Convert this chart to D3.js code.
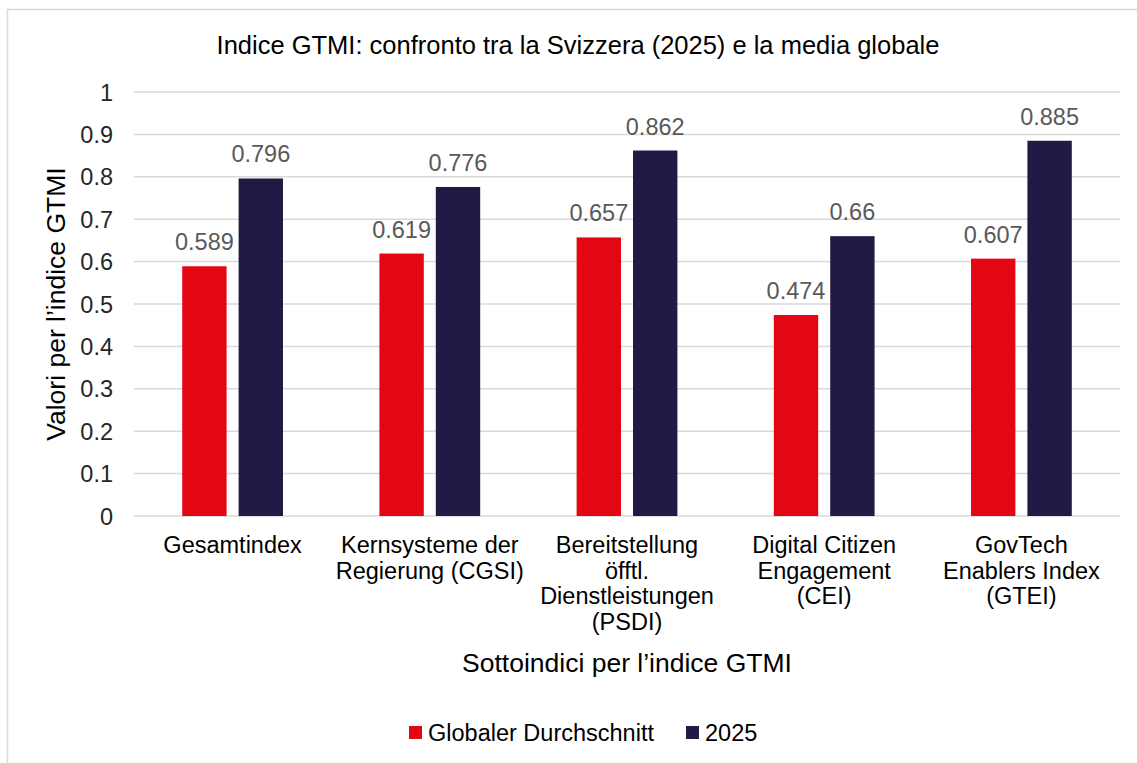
<!DOCTYPE html>
<html>
<head>
<meta charset="utf-8">
<script src="https://cdn.jsdelivr.net/npm/d3@7"></script>
<style>
  body { margin: 0; background: #fff; }
  svg text { font-family: "Liberation Sans", Arial, sans-serif; }
</style>
</head>
<body>
<div id="chart"></div>
<script>

// data
const categories = [
    ["Gesamtindex"],
    ["Kernsysteme der", "Regierung (CGSI)"],
    ["Bereitstellung", "öfftl.", "Dienstleistungen", "(PSDI)"],
    ["Digital Citizen", "Engagement", "(CEI)"],
    ["GovTech", "Enablers Index", "(GTEI)"]
];
const seriesNames = ["Globaler Durchschnitt", "2025"];
const globalAvg = [0.589, 0.619, 0.657, 0.474, 0.607];
const swiss2025 = [0.796, 0.776, 0.862, 0.66, 0.885];
const yTicks = [0, 0.1, 0.2, 0.3, 0.4, 0.5, 0.6, 0.7, 0.8, 0.9, 1];
const colors = ["#e30613", "#201a45"];

const width = 1137, height = 763;
const margin = { top: 92, right: 17, bottom: 247, left: 134 };
const innerW = width - margin.left - margin.right;
const innerH = height - margin.top - margin.bottom;

const svg = d3.select("#chart").append("svg")
    .attr("width", width)
    .attr("height", height);

// outer frame (right/bottom edges fall outside the picture)
svg.append("rect")
    .attr("x", 7.5).attr("y", 9.5)
    .attr("width", width + 20).attr("height", height + 20)
    .attr("fill", "none")
    .attr("stroke", "#d9d9d9")
    .attr("stroke-width", 1.5);

svg.append("text")
    .attr("x", 578).attr("y", 54)
    .attr("text-anchor", "middle")
    .style("font-size", "25.5px")
    .style("fill", "#000")
    .text("Indice GTMI: confronto tra la Svizzera (2025) e la media globale");

const g = svg.append("g")
    .attr("transform", "translate(" + margin.left + "," + margin.top + ")");

let y = d3.scaleLinear().domain([0, 1]).range([innerH, 0]);
let x0 = d3.scaleBand().domain(d3.range(categories.length)).range([0, innerW]);
let barW = x0.bandwidth() * 0.225;
let gap = x0.bandwidth() * 0.061;

// gridlines
g.selectAll(".grid")
    .data(yTicks)
    .enter().append("line")
    .attr("class", "grid")
    .attr("x1", 0).attr("x2", innerW)
    .attr("y1", d => y(d)).attr("y2", d => y(d))
    .style("stroke", "#d9d9d9")
    .style("stroke-width", 1.5);

// y tick labels
g.selectAll(".ytick")
    .data(yTicks)
    .enter().append("text")
    .attr("class", "ytick")
    .attr("x", -21)
    .attr("y", d => y(d) + 8.5)
    .attr("text-anchor", "end")
    .style("font-size", "23.5px")
    .style("fill", "#262626")
    .text(d => d3.format("~g")(d));

const series = [globalAvg, swiss2025];

series.forEach((vals, s) => {
    let offset = s === 0 ? -(gap / 2 + barW) : gap / 2;

    g.selectAll(".bar" + s)
        .data(vals)
        .enter().append("rect")
        .attr("x", (d, i) => x0(i) + x0.bandwidth() / 2 + offset)
        .attr("y", d => y(d))
        .attr("width", barW)
        .attr("height", d => innerH - y(d))
        .style("fill", colors[s]);

    g.selectAll(".lab" + s)
        .data(vals)
        .enter().append("text")
        .attr("x", (d, i) => x0(i) + x0.bandwidth() / 2 + offset + barW / 2)
        .attr("y", d => y(d) - 16)
        .attr("text-anchor", "middle")
        .style("font-size", "23.5px")
        .style("fill", "#595959")
        .text(d => d3.format("~g")(d));
});

// category labels
categories.forEach((lines, i) => {
    let t = g.append("text")
        .attr("text-anchor", "middle")
        .style("font-size", "23.5px")
        .style("fill", "#000");
    lines.forEach((line, k) => {
        t.append("tspan")
            .attr("x", x0(i) + x0.bandwidth() / 2)
            .attr("y", innerH + 37 + k * 25.7)
            .text(line);
    });
});

// axis titles
svg.append("text")
    .attr("x", margin.left + innerW / 2)
    .attr("y", 672)
    .attr("text-anchor", "middle")
    .style("font-size", "26.5px")
    .style("fill", "#000")
    .text("Sottoindici per l’indice GTMI");

svg.append("text")
    .attr("transform", "translate(65," + (margin.top + innerH / 2) + ") rotate(-90)")
    .attr("text-anchor", "middle")
    .style("font-size", "26.5px")
    .style("fill", "#000")
    .text("Valori per l’indice GTMI");

// legend
const legendX = [409, 686];
seriesNames.forEach((name, s) => {
    svg.append("rect")
        .attr("x", legendX[s]).attr("y", 726)
        .attr("width", 13).attr("height", 13)
        .style("fill", colors[s]);
    svg.append("text")
        .attr("x", legendX[s] + 19).attr("y", 741)
        .style("font-size", "23.5px")
        .style("fill", "#000")
        .text(name);
});

</script>
</body>
</html>
